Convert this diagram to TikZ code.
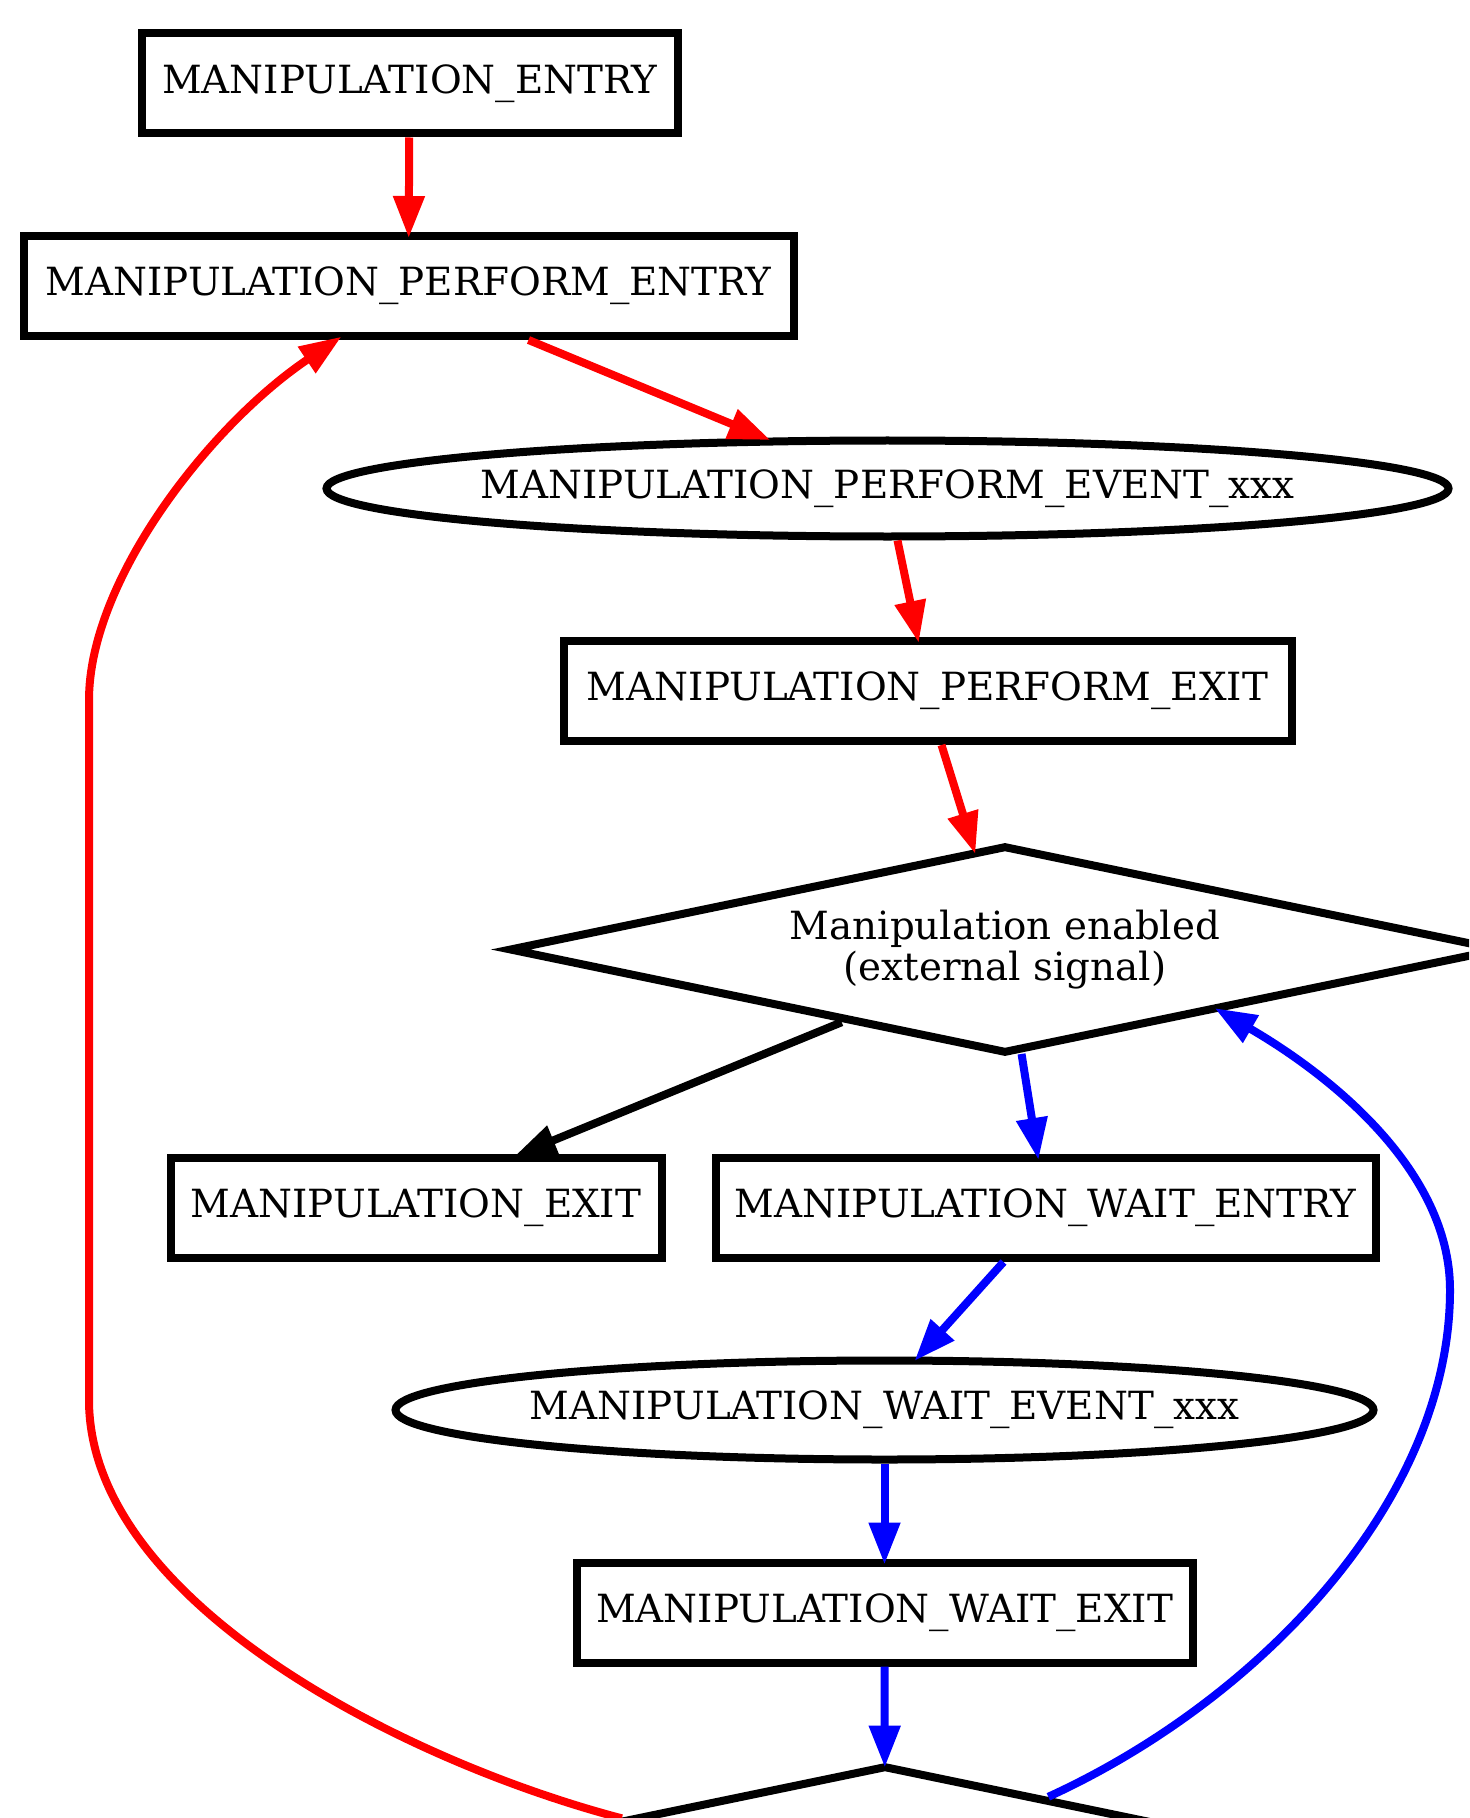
\documentclass[tikz,border=0pt]{standalone}
\usepackage{fontspec}
\setmainfont{DejaVu Serif}
\usetikzlibrary{shapes.geometric,arrows.meta}

\tikzset{
  statebox/.style={rectangle, draw, line width=4pt, inner sep=0pt,
                   minimum height=50pt, font=\fontsize{19.4}{23}\selectfont},
  eventbox/.style={ellipse, draw, line width=4pt, inner xsep=-20pt, inner ysep=0pt,
                   font=\fontsize{19.4}{23}\selectfont},
  checkbox/.style={diamond, draw, line width=4pt, shape aspect=4.65, inner sep=0pt,
                   minimum width=496pt, minimum height=104pt, align=center,
                   font=\fontsize{19.4}{20.5}\selectfont},
  flow/.style={line width=4pt, shorten >=-3pt, -{Triangle[length=21pt,width=15pt]}}
}

\begin{document}
\begin{tikzpicture}[x=0.5pt, y=-0.5pt]

\path[use as bounding box] (0,0) rectangle (1469,1818);
\clip (0,0) rectangle (1469,1818);

\node[statebox, minimum width=268pt] (entry) at (409.5, 83.5) {MANIPULATION\_ENTRY};
\node[statebox, minimum width=385pt] (pe) at (408.5, 286) {MANIPULATION\_PERFORM\_ENTRY};
\node[eventbox, minimum width=561pt, minimum height=48pt] (pv) at (887.5, 488.5) {MANIPULATION\_PERFORM\_EVENT\_xxx};
\node[statebox, minimum width=364pt] (px) at (927.5, 691) {MANIPULATION\_PERFORM\_EXIT};
\node[checkbox] (en) at (1005, 949.5) {Manipulation enabled\\(external signal)};
\node[statebox, minimum width=245.5pt] (mx) at (416, 1208) {MANIPULATION\_EXIT};
\node[statebox, minimum width=330pt] (we) at (1045.5, 1208) {MANIPULATION\_WAIT\_ENTRY};
\node[eventbox, minimum width=489pt, minimum height=49.5pt] (wv) at (884.5, 1410) {MANIPULATION\_WAIT\_EVENT\_xxx};
\node[statebox, minimum width=308pt] (wx) at (884.5, 1612.5) {MANIPULATION\_WAIT\_EXIT};
\node[checkbox] (wd) at (885, 1869.5) {};

\draw[flow, red] (entry) -- (pe);
\draw[flow, red] ([xshift=60pt]pe.south) -- (pv);
\draw[flow, red] ([xshift=5pt]pv.south) -- ([xshift=-5pt]px.north);
\draw[flow, red] ([xshift=7pt]px.south) -- (en);
\draw[flow] (en.204.5) -- ([xshift=52pt]mx.north);
\draw[flow, blue] (en.-81) -- ([xshift=-4pt]we.north);
\draw[flow, blue] ([xshift=-21pt]we.south) -- ([xshift=17pt]wv.north);
\draw[flow, blue] (wv) -- (wx);
\draw[flow, blue] (wx) -- (wd);
\draw[flow, blue] (wd.24) .. controls (1260,1700) and (1450,1500) .. (1450,1290)
      .. controls (1450,1170) and (1330,1075) .. (en.-16);
\draw[flow, red] (wd.169) .. controls (400,1760) and (89,1600) .. (89,1400) -- (89,700)
      .. controls (89,580) and (210,425) .. ([xshift=-36pt]pe.south);

\end{tikzpicture}
\end{document}
